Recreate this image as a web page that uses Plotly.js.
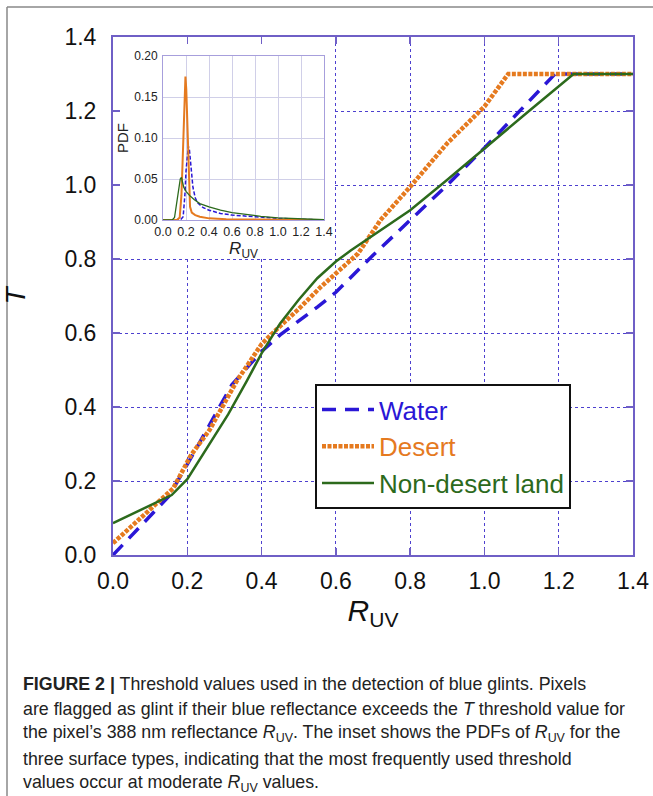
<!DOCTYPE html>
<html>
<head>
<meta charset="utf-8">
<script src="https://cdn.plot.ly/plotly-3.0.1.min.js"></script>
<style>
html,body{margin:0;padding:0;background:#fff;}
#chart{width:653px;height:796px;}
</style>
</head>
<body>
<div id="chart"></div>
<script>
// ---- Main chart: threshold T vs R_UV ----
var waterX  = [0, 0.15, 0.22, 0.32, 0.40, 0.45, 0.55, 0.60, 0.70, 0.80, 0.90, 1.00, 1.19, 1.40];
var waterT  = [0, 0.158, 0.28, 0.46, 0.55, 0.595, 0.67, 0.71, 0.81, 0.905, 1.00, 1.10, 1.30, 1.30];

var desertX = [0, 0.162, 0.21, 0.26, 0.333, 0.40, 0.43, 0.50, 0.56, 0.60, 0.66, 0.72, 0.80, 0.90, 1.00, 1.064, 1.40];
var desertT = [0.032, 0.18, 0.27, 0.338, 0.47, 0.57, 0.60, 0.665, 0.725, 0.76, 0.815, 0.905, 0.995, 1.113, 1.212, 1.30, 1.30];

var landX   = [0, 0.158, 0.20, 0.26, 0.31, 0.36, 0.40, 0.45, 0.50, 0.55, 0.60, 0.64, 0.68, 0.72, 0.80, 0.90, 1.00, 1.12, 1.24, 1.40];
var landT   = [0.086, 0.162, 0.205, 0.30, 0.38, 0.47, 0.545, 0.626, 0.69, 0.748, 0.793, 0.823, 0.85, 0.878, 0.932, 1.014, 1.099, 1.20, 1.30, 1.30];

// ---- Inset: PDFs of R_UV ----
var pdfWaterX  = [0, 0.15, 0.175, 0.19, 0.20, 0.21, 0.22, 0.23, 0.24, 0.25, 0.26, 0.28, 0.30, 0.35, 0.40, 0.50, 0.60, 0.80, 1.00, 1.20, 1.40];
var pdfWaterY  = [0, 0, 0.004, 0.03, 0.06, 0.082, 0.09, 0.085, 0.07, 0.052, 0.04, 0.027, 0.021, 0.015, 0.012, 0.008, 0.006, 0.004, 0.002, 0.001, 0];

var pdfDesertX = [0, 0.12, 0.145, 0.16, 0.17, 0.18, 0.188, 0.195, 0.202, 0.21, 0.218, 0.226, 0.235, 0.25, 0.28, 0.32, 0.40, 0.55, 0.80, 1.10, 1.40];
var pdfDesertY = [0, 0, 0.003, 0.03, 0.07, 0.12, 0.16, 0.175, 0.16, 0.12, 0.07, 0.03, 0.016, 0.009, 0.006, 0.004, 0.002, 0.001, 0.0005, 0.0002, 0];

var pdfLandX   = [0, 0.08, 0.10, 0.12, 0.135, 0.15, 0.16, 0.17, 0.18, 0.20, 0.23, 0.27, 0.32, 0.40, 0.50, 0.60, 0.70, 0.85, 1.00, 1.20, 1.40];
var pdfLandY   = [0, 0, 0.003, 0.02, 0.038, 0.05, 0.052, 0.046, 0.04, 0.035, 0.03, 0.025, 0.02, 0.016, 0.012, 0.009, 0.007, 0.0045, 0.0025, 0.001, 0.0003];

var seriesNames = ['Water', 'Desert', 'Non-desert land'];

var captionLines = [
  '<b>FIGURE 2 |</b> Threshold values used in the detection of blue glints. Pixels',
  'are flagged as glint if their blue reflectance exceeds the <i>T</i> threshold value for',
  'the pixel\u2019s 388 nm reflectance <i>R</i><sub>UV</sub>. The inset shows the PDFs of <i>R</i><sub>UV</sub> for the',
  'three surface types, indicating that the most frequently used threshold',
  'values occur at moderate <i>R</i><sub>UV</sub> values.'
];

var cBlue = '#2a17d6', cOrange = '#e57a1f', cGreen = '#2c6a1c';
var FONT = 'Liberation Sans, Arial, Helvetica, sans-serif';

var traces = [
  {x: waterX, y: waterT, type: 'scatter', mode: 'lines', name: '<span style="color:' + cBlue + '">' + seriesNames[0] + '</span>',
   line: {color: cBlue, width: 3.5, dash: '14px,9px'}, xaxis: 'x', yaxis: 'y'},
  {x: desertX, y: desertT, type: 'scatter', mode: 'lines', name: '<span style="color:' + cOrange + '">' + seriesNames[1] + '</span>',
   line: {color: cOrange, width: 4.5, dash: '4px,1.5px'}, xaxis: 'x', yaxis: 'y'},
  {x: landX, y: landT, type: 'scatter', mode: 'lines', name: '<span style="color:' + cGreen + '">' + seriesNames[2] + '</span>',
   line: {color: cGreen, width: 2.5}, xaxis: 'x', yaxis: 'y'},
  {x: pdfWaterX, y: pdfWaterY, type: 'scatter', mode: 'lines', showlegend: false,
   line: {color: cBlue, width: 1.5, dash: '4px,2px'}, xaxis: 'x2', yaxis: 'y2'},
  {x: pdfDesertX, y: pdfDesertY, type: 'scatter', mode: 'lines', showlegend: false,
   line: {color: cOrange, width: 2}, xaxis: 'x2', yaxis: 'y2'},
  {x: pdfLandX, y: pdfLandY, type: 'scatter', mode: 'lines', showlegend: false,
   line: {color: cGreen, width: 1.3}, xaxis: 'x2', yaxis: 'y2'}
];

var axisCol = '#6f5fc6', gridCol = '#4d40cf';

var annotations = captionLines.map(function (t, i) {
  var ypx = [684, 709, 734, 759, 783][i];
  return {text: t, xref: 'paper', yref: 'paper', x: (21 - 113) / 520, y: (555 - ypx) / 518,
          xanchor: 'left', yanchor: 'middle', showarrow: false, align: 'left',
          font: {family: FONT, size: 17.8, color: '#222'}};
});

var layout = {
  width: 653, height: 796,
  margin: {l: 113, r: 20, t: 37, b: 241},
  paper_bgcolor: '#fff', plot_bgcolor: '#fff',
  font: {family: FONT, color: '#111'},
  showlegend: true,
  xaxis: {
    range: [0, 1.4], dtick: 0.2, tick0: 0, tickformat: '.1f',
    showgrid: true, gridcolor: gridCol, gridwidth: 1, griddash: 'dot',
    showline: true, linecolor: axisCol, linewidth: 2, mirror: 'allticks',
    ticks: 'inside', ticklen: 7, tickwidth: 1.5, tickcolor: axisCol,
    zeroline: false, tickfont: {size: 23, family: FONT, color: '#111'}, ticklabelstandoff: 4,
    title: {text: '<i>R</i><sub>UV</sub>', font: {size: 30, family: FONT, color: '#111'}, standoff: 6},
    automargin: false
  },
  yaxis: {
    range: [0, 1.4], dtick: 0.2, tick0: 0, tickformat: '.1f',
    showgrid: true, gridcolor: gridCol, gridwidth: 1, griddash: 'dot',
    showline: true, linecolor: axisCol, linewidth: 2, mirror: 'allticks',
    ticks: 'inside', ticklen: 7, tickwidth: 1.5, tickcolor: axisCol,
    zeroline: false, tickfont: {size: 23, family: FONT, color: '#111'}, ticklabelstandoff: 10,
    title: {text: '<i>T</i>', font: {size: 28, family: FONT, color: '#111'}, standoff: 31},
    automargin: false
  },
  xaxis2: {
    domain: [0.0962, 0.4058], anchor: 'y2', range: [0, 1.4], dtick: 0.2, tick0: 0, tickformat: '.1f',
    showgrid: true, gridcolor: '#d0cfe8', gridwidth: 1,
    showline: true, linecolor: '#a79fdc', linewidth: 1, mirror: true,
    ticks: '', zeroline: false, tickfont: {size: 12.5, family: FONT, color: '#222'},
    title: {text: '<i>R</i><sub>UV</sub>', font: {size: 17, family: FONT, color: '#222'}, standoff: 0},
    automargin: false
  },
  yaxis2: {
    domain: [0.6467, 0.9633], anchor: 'x2', range: [0, 0.2], dtick: 0.05, tick0: 0, tickformat: '.2f',
    showgrid: true, gridcolor: '#d0cfe8', gridwidth: 1,
    showline: true, linecolor: '#a79fdc', linewidth: 1, mirror: true,
    ticks: '', zeroline: false, tickfont: {size: 12, family: FONT, color: '#222'}, ticklabelstandoff: 2,
    title: {text: 'PDF', font: {size: 15, family: FONT, color: '#222'}, standoff: 2},
    automargin: false
  },
  legend: {
    x: (315 - 113) / 520, y: (555 - 384) / 518, xanchor: 'left', yanchor: 'top',
    bgcolor: '#fff', bordercolor: '#111', borderwidth: 2,
    font: {size: 26, family: FONT}, itemwidth: 52, tracegroupgap: 0
  },
  shapes: [
    // white panel hosting the inset
    {type: 'rect', xref: 'x', yref: 'y', x0: 0.004, x1: 0.597, y0: 0.803, y1: 1.396,
     fillcolor: '#fff', line: {width: 0}, layer: 'between'},
    // outer figure frame (top and left edges)
    {type: 'line', xref: 'paper', yref: 'paper', x0: (7 - 113) / 520, x1: (653 - 113) / 520,
     y0: (555 - 7) / 518, y1: (555 - 7) / 518, line: {color: '#888', width: 1.5}},
    {type: 'line', xref: 'paper', yref: 'paper', x0: (7 - 113) / 520, x1: (7 - 113) / 520,
     y0: (555 - 7) / 518, y1: (555 - 796) / 518, line: {color: '#888', width: 1.5}}
  ],
  annotations: annotations
};

Plotly.newPlot('chart', traces, layout, {displayModeBar: false, staticPlot: true});
</script>
</body>
</html>
